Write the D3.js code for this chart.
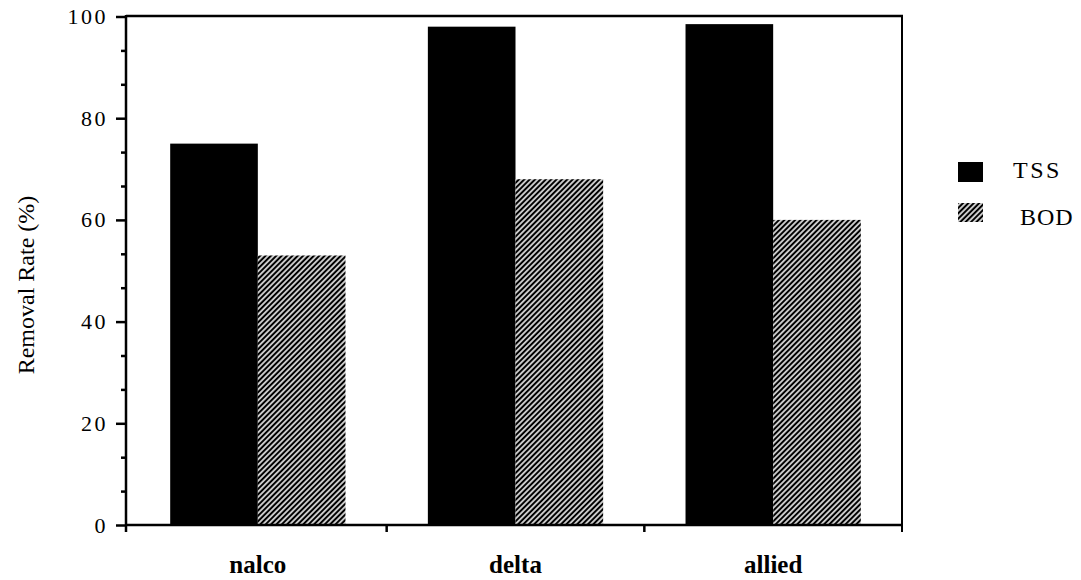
<!DOCTYPE html>
<html>
<head>
<meta charset="utf-8">
<script src="https://cdn.jsdelivr.net/npm/d3@7/dist/d3.min.js"></script>
<style>
  html, body { margin: 0; padding: 0; background: #fff; }
  svg { display: block; }
  text { font-family: "Liberation Serif", "Times New Roman", serif; fill: #000; }
</style>
</head>
<body>
<svg id="chart" width="1081" height="580"></svg>
<script>
const categories = ["nalco", "delta", "allied"];
const seriesNames = ["TSS", "BOD"];
const tssValues = [75, 98, 98.5];
const bodValues = [53, 68, 60];
const yTickValues = [0, 20, 40, 60, 80, 100];

const svg = d3.select("#chart");
const x0Left = 126, x0Right = 902, yTop = 16.5, yBottom = 525;

const defs = svg.append("defs");
const pat = defs.append("pattern")
  .attr("id", "hatch")
  .attr("patternUnits", "userSpaceOnUse")
  .attr("width", 3.8).attr("height", 3.8)
  .attr("patternTransform", "rotate(45)");
pat.append("rect").attr("width", 3.8).attr("height", 3.8).attr("fill", "#000");
pat.append("line").attr("x1", 1.9).attr("y1", 0).attr("x2", 1.9).attr("y2", 3.8)
  .attr("stroke", "#fff").attr("stroke-width", 1.5);

const y = d3.scaleLinear().domain([0, 100]).range([yBottom, yTop]);
const x = d3.scaleBand().domain(categories).range([129, x0Right]).paddingInner(0).paddingOuter(0);
const x1 = d3.scaleBand().domain(seriesNames).range([0, x.bandwidth()]).paddingInner(0).paddingOuter(0.47);

const fills = { TSS: "#000", BOD: "url(#hatch)" };
const data = categories.map((c, i) => ({ cat: c, vals: [
  { s: "TSS", v: tssValues[i] },
  { s: "BOD", v: bodValues[i] }
]}));

// bars
const g = svg.append("g");
g.selectAll("g.grp").data(data).enter().append("g")
  .attr("transform", d => `translate(${x(d.cat)},0)`)
  .selectAll("rect").data(d => d.vals).enter().append("rect")
  .attr("x", d => x1(d.s))
  .attr("width", x1.bandwidth())
  .attr("y", d => y(d.v))
  .attr("height", d => y(0) - y(d.v))
  .attr("fill", d => fills[d.s]);

// frame: top and right
svg.append("line").attr("x1", x0Left).attr("x2", x0Right + 1).attr("y1", yTop - 0.5).attr("y2", yTop - 0.5)
  .attr("stroke", "#000").attr("stroke-width", 2.5);
svg.append("line").attr("x1", x0Right).attr("x2", x0Right).attr("y1", yTop - 1).attr("y2", yBottom + 7)
  .attr("stroke", "#000").attr("stroke-width", 2);
// baseline
svg.append("line").attr("x1", x0Left).attr("x2", x0Right).attr("y1", yBottom).attr("y2", yBottom)
  .attr("stroke", "#000").attr("stroke-width", 2.5);

// y axis minor ticks
const minor = d3.range(0, 101, 20 / 3).filter(v => Math.abs(v / 20 - Math.round(v / 20)) > 0.01);
svg.append("g").attr("transform", `translate(${x0Left},0)`)
  .call(d3.axisLeft(y).tickValues(minor).tickSize(5).tickFormat(""))
  .call(s => s.select(".domain").remove())
  .call(s => s.selectAll("line").attr("stroke-width", 2.5));
// y axis major
const yAxis = svg.append("g").attr("transform", `translate(${x0Left},0)`)
  .call(d3.axisLeft(y).tickValues(yTickValues).tickSize(10).tickPadding(8).tickSizeOuter(0));
yAxis.select(".domain").remove();
yAxis.selectAll("line").attr("stroke-width", 2.5);
yAxis.selectAll("text").attr("font-size", 22).attr("letter-spacing", 2.5)
  .style("font-family", "'Liberation Serif', serif");
svg.append("line").attr("x1", x0Left).attr("x2", x0Left).attr("y1", yTop - 1.5).attr("y2", yBottom + 7)
  .attr("stroke", "#000").attr("stroke-width", 2.5);

// x axis labels
const xAxis = svg.append("g").attr("transform", `translate(0,${yBottom})`)
  .call(d3.axisBottom(x).tickSize(0).tickPadding(30));
xAxis.select(".domain").remove();
xAxis.selectAll("text").attr("font-size", 25).attr("font-weight", "bold")
  .style("font-family", "'Liberation Serif', serif");
// category boundary ticks
const bounds = categories.slice(1).map(c => x(c));
svg.append("g").selectAll("line").data(bounds).enter().append("line")
  .attr("x1", d => d).attr("x2", d => d).attr("y1", yBottom).attr("y2", yBottom + 7)
  .attr("stroke", "#000").attr("stroke-width", 2.5);

// y label
svg.append("text")
  .attr("transform", "translate(34,285) rotate(-90)")
  .attr("text-anchor", "middle")
  .attr("font-size", 24)
  .text("Removal Rate (%)");

// legend
const legend = svg.append("g");
const legItems = [
  { s: "TSS", ry: 162, rh: 20, tx: 1013, ty: 178, ls: 2.5 },
  { s: "BOD", ry: 203, rh: 19, tx: 1020, ty: 225, ls: 1 }
];
legItems.forEach(it => {
  legend.append("rect").attr("x", 958).attr("y", it.ry).attr("width", 25).attr("height", it.rh)
    .attr("fill", fills[it.s]);
  legend.append("text").attr("x", it.tx).attr("y", it.ty).attr("font-size", 24)
    .attr("letter-spacing", it.ls).text(it.s);
});
</script>
</body>
</html>
